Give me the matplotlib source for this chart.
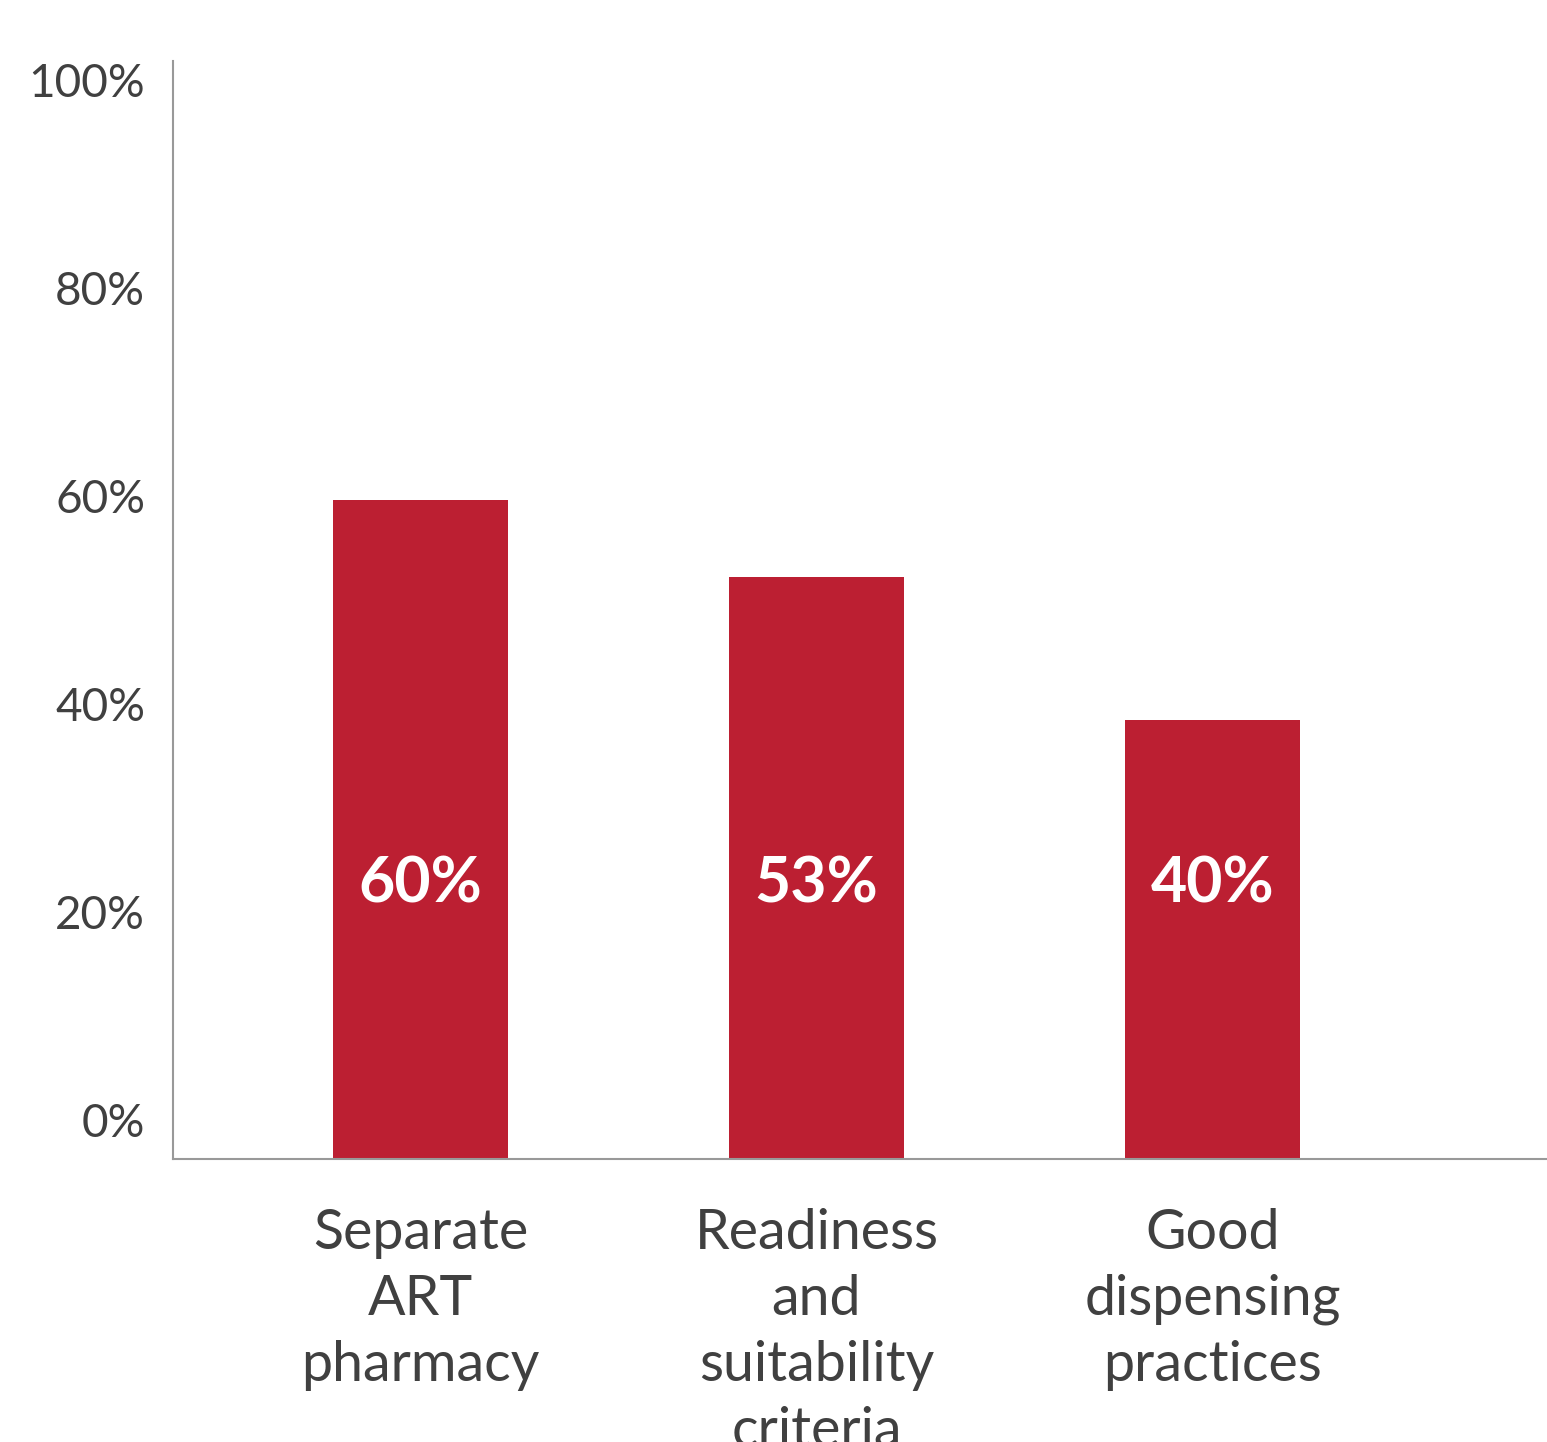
import numpy as np
import matplotlib
matplotlib.use("Agg")
import matplotlib.pyplot as plt

# data
categories = ["Separate\nART\npharmacy",
              "Readiness\nand\nsuitability\ncriteria",
              "Good\ndispensing\npractices"]
values = [60, 53, 40]
bar_labels = ["60%", "53%", "40%"]
y_ticks = [0, 20, 40, 60, 80, 100]
y_tick_labels = ["0%", "20%", "40%", "60%", "80%", "100%"]

BAR_COLOR = "#BC1F32"
TEXT_COLOR = "#404040"
SPINE_COLOR = "#999999"

plt.rcParams['font.family'] = ['Lato', 'DejaVu Sans']


def to_label_scale(d):
    # tick labels sit a little off the true grid in the original
    return (10.98 * np.asarray(d) - 39) / 10.4


def from_label_scale(v):
    return (39 + 10.4 * np.asarray(v)) / 10.98


def main():
    fig = plt.figure(figsize=(15.47, 14.42), dpi=100)
    ax = fig.add_axes([173 / 1547, 1 - 1159 / 1442, 1 - 173 / 1547, 1098 / 1442])

    x = np.arange(len(categories))
    ax.bar(x, values, width=0.444, color=BAR_COLOR)

    for xi, lab in zip(x, bar_labels):
        ax.text(xi, 25.0, lab, ha='center', va='center', color='white',
                fontsize=45, fontweight='bold')

    ax.set_xlim(-0.625, 2.845)
    ax.set_ylim(0, 100)

    ax.set_xticks(x)
    ax.set_xticklabels(categories, fontsize=40, color=TEXT_COLOR, linespacing=1.37)
    ax.tick_params(axis='x', length=0, pad=35)

    ax.set_yticks([])
    sec = ax.secondary_yaxis('left', functions=(to_label_scale, from_label_scale))
    sec.set_yticks(y_ticks)
    sec.set_yticklabels(y_tick_labels, fontsize=33, color=TEXT_COLOR)
    sec.tick_params(axis='y', length=0, pad=20)
    sec.spines['left'].set_visible(False)

    for s in ['top', 'right']:
        ax.spines[s].set_visible(False)
    for s in ['left', 'bottom']:
        ax.spines[s].set_color(SPINE_COLOR)
        ax.spines[s].set_linewidth(1.5)

    fig.savefig("out.png", dpi=100)


if __name__ == "__main__":
    main()
